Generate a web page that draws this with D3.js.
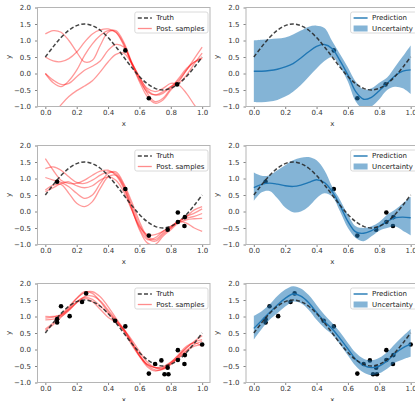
<!DOCTYPE html>
<html>
<head>
<meta charset="utf-8">
<script src="https://cdn.jsdelivr.net/npm/d3@7"></script>
<style>
body{margin:0;background:#fff}
text{font-family:"DejaVu Sans",sans-serif}
</style>
</head>
<body>
<svg id="fig" width="415" height="401"></svg>
<script>
// x grid shared by every curve
const xGrid = [0,0.05,0.1,0.15,0.2,0.25,0.3,0.35,0.4,0.45,0.5,0.55,0.6,0.65,0.7,0.75,0.8,0.85,0.9,0.95,1];
const truthY = [0.5,0.81,1.09,1.31,1.45,1.5,1.45,1.31,1.09,0.81,0.5,0.19,-0.09,-0.31,-0.45,-0.5,-0.45,-0.31,-0.09,0.19,0.5];

// observations per row
const obsX1 = [0.51,0.66,0.84];
const obsY1 = [0.70,-0.75,-0.33];
const obsX2 = [0.075,0.51,0.66,0.78,0.845,0.845,0.887,0.89];
const obsY2 = [0.90,0.68,-0.73,-0.55,-0.03,-0.32,-0.44,-0.17];
const obsX3 = [0.075,0.075,0.10,0.155,0.234,0.26,0.445,0.51,0.66,0.70,0.74,0.76,0.785,0.78,0.845,0.845,0.887,0.89,1.0];
const obsY3 = [0.92,0.82,1.31,1.01,1.44,1.70,0.87,0.70,-0.73,-0.44,-0.33,-0.75,-0.75,-0.55,-0.02,-0.32,-0.44,-0.17,0.15];

// posterior samples (5 per row)
const samples1 = [
  [1.20,1.30,1.25,1.00,0.65,0.35,0.40,0.85,1.25,1.30,0.95,0.35,-0.15,-0.60,-0.85,-0.75,-0.45,-0.15,0.15,0.35,0.45],
  [0.50,0.38,0.36,0.45,0.65,0.95,1.20,1.32,1.35,1.25,0.85,0.30,-0.20,-0.55,-0.65,-0.55,-0.40,-0.30,-0.05,0.30,0.62],
  [0.00,-0.28,-0.40,-0.22,0.10,0.55,0.90,1.15,1.30,1.25,0.90,0.30,-0.25,-0.70,-0.90,-0.80,-0.50,-0.25,0.10,0.45,0.80],
  [0.00,-0.20,-0.33,-0.30,-0.10,0.10,0.22,0.38,0.70,0.88,0.80,0.35,-0.10,-0.45,-0.55,-0.45,-0.30,-0.35,-0.60,-0.95,-1.25],
  [-1.60,-1.25,-0.95,-0.70,-0.52,-0.38,-0.22,0.05,0.35,0.58,0.62,0.30,-0.10,-0.50,-0.65,-0.60,-0.40,-0.20,0.10,0.35,0.48]
];
const samples2 = [
  [1.60,1.25,0.95,0.85,0.85,0.95,1.10,1.22,1.25,1.10,0.70,0.10,-0.50,-0.85,-0.80,-0.60,-0.45,-0.30,-0.15,0.05,0.15],
  [1.30,1.35,1.25,1.05,0.88,0.85,0.95,1.10,1.20,1.15,0.80,0.20,-0.40,-0.80,-0.90,-0.70,-0.50,-0.30,-0.15,-0.05,0.08],
  [1.03,0.95,0.88,0.75,0.55,0.40,0.50,0.85,1.15,1.20,0.85,0.30,-0.30,-0.75,-0.85,-0.65,-0.50,-0.30,-0.20,-0.15,-0.06],
  [0.65,0.80,0.82,0.55,0.25,0.15,0.30,0.70,1.05,1.10,0.75,0.10,-0.55,-0.95,-1.00,-0.75,-0.55,-0.35,-0.25,-0.22,-0.21],
  [0.60,0.72,0.85,0.90,0.78,0.72,0.78,0.95,1.05,0.95,0.60,0.05,-0.45,-0.70,-0.70,-0.60,-0.45,-0.30,-0.35,-0.50,-0.60]
];
const samples3 = [
  [1.00,1.00,1.05,1.25,1.55,1.75,1.70,1.45,1.15,0.88,0.62,0.25,-0.15,-0.45,-0.55,-0.55,-0.40,-0.25,-0.05,0.10,0.15],
  [0.95,0.98,1.05,1.22,1.45,1.58,1.52,1.32,1.10,0.85,0.55,0.15,-0.20,-0.45,-0.55,-0.52,-0.38,-0.18,0.05,0.22,0.30],
  [0.90,0.92,1.00,1.18,1.42,1.55,1.45,1.22,0.98,0.82,0.60,0.22,-0.18,-0.48,-0.62,-0.60,-0.45,-0.25,-0.02,0.15,0.25],
  [0.62,0.80,1.05,1.30,1.55,1.72,1.75,1.60,1.30,0.95,0.62,0.30,-0.05,-0.38,-0.55,-0.58,-0.45,-0.20,0.05,0.25,0.42],
  [0.58,0.75,0.98,1.20,1.42,1.60,1.62,1.48,1.20,0.90,0.58,0.20,-0.20,-0.52,-0.65,-0.58,-0.40,-0.15,0.10,0.20,0.10]
];

// predictive mean and uncertainty band per row
const mean1  = [0.07,0.07,0.09,0.13,0.20,0.30,0.47,0.66,0.82,0.88,0.75,0.38,-0.05,-0.55,-0.78,-0.72,-0.52,-0.30,-0.07,0.07,0.11];
const upper1 = [1.00,1.02,1.04,1.06,1.09,1.18,1.30,1.42,1.45,1.38,0.98,0.58,0.18,-0.25,-0.48,-0.45,-0.28,-0.12,0.20,0.52,0.85];
const lower1 = [-0.86,-0.87,-0.85,-0.80,-0.70,-0.55,-0.35,-0.10,0.15,0.38,0.50,0.20,-0.25,-0.85,-1.08,-1.00,-0.78,-0.50,-0.40,-0.45,-0.62];
const mean2  = [0.72,0.82,0.86,0.83,0.78,0.76,0.80,0.88,0.96,0.88,0.60,0.18,-0.30,-0.62,-0.66,-0.58,-0.45,-0.30,-0.19,-0.17,-0.19];
const upper2 = [1.18,1.08,1.10,1.25,1.40,1.55,1.63,1.65,1.55,1.25,0.75,0.35,-0.10,-0.45,-0.50,-0.45,-0.32,-0.10,0.05,0.25,0.45];
const lower2 = [0.32,0.58,0.62,0.40,0.12,-0.02,0.00,0.15,0.40,0.55,0.45,0.00,-0.50,-0.80,-0.90,-0.75,-0.58,-0.50,-0.45,-0.58,-0.72];
const mean3  = [0.64,0.88,1.12,1.35,1.55,1.68,1.62,1.42,1.12,0.85,0.62,0.33,0.02,-0.30,-0.48,-0.55,-0.50,-0.35,-0.12,0.05,0.16];
const upper3 = [1.02,1.16,1.36,1.62,1.82,1.92,1.85,1.65,1.35,1.05,0.80,0.52,0.20,-0.10,-0.28,-0.33,-0.25,-0.08,0.17,0.40,0.62];
const lower3 = [0.30,0.62,0.90,1.10,1.30,1.45,1.40,1.20,0.90,0.65,0.45,0.15,-0.18,-0.50,-0.70,-0.78,-0.72,-0.58,-0.40,-0.30,-0.22];

const xTicks = [0,0.2,0.4,0.6,0.8,1.0];
const yTicks = [-1,-0.5,0,0.5,1,1.5,2];

const rows = [
  {obsX: obsX1, obsY: obsY1, samples: samples1, mean: mean1, upper: upper1, lower: lower1},
  {obsX: obsX2, obsY: obsY2, samples: samples2, mean: mean2, upper: upper2, lower: lower2},
  {obsX: obsX3, obsY: obsY3, samples: samples3, mean: mean3, upper: upper3, lower: lower3}
];

// layout
const colLeft = [37.5, 246];
const rowTop = [7.5, 145.5, 283.5];
const pw = 172.5, ph = 99;
const blue = "#1f77b4";

const svg = d3.select("#fig");
const fmt = d3.format(".1f");

function makeAxes(g, id){
  const x = d3.scaleLinear().domain([-0.05, 1.05]).range([0, pw]);
  const y = d3.scaleLinear().domain([-1, 2]).range([ph, 0]);

  g.append("clipPath").attr("id", id)
    .append("rect").attr("width", pw).attr("height", ph);

  const ax = g.append("g").attr("transform", `translate(0,${ph})`)
    .call(d3.axisBottom(x).tickValues(xTicks).tickFormat(fmt).tickSize(2.5).tickPadding(1.5).tickSizeOuter(0));
  const ay = g.append("g")
    .call(d3.axisLeft(y).tickValues(yTicks).tickFormat(fmt).tickSize(2.5).tickPadding(4).tickSizeOuter(0));
  [ax, ay].forEach(a => {
    a.select(".domain").remove();
    a.selectAll("line").attr("stroke", "#666").attr("stroke-width", 0.8);
    a.selectAll("text").attr("fill", "#333").style("font-size", "7px");
  });

  g.append("text").attr("x", pw / 2).attr("y", ph + 19.5)
    .attr("text-anchor", "middle").attr("fill", "#333").style("font-size", "7px").text("x");
  g.append("text").attr("transform", `translate(-27,${ph / 2}) rotate(-90)`)
    .attr("text-anchor", "middle").attr("fill", "#333").style("font-size", "7px").text("y");

  const plot = g.append("g").attr("clip-path", `url(#${id})`);
  return {x, y, plot};
}

function spines(g){
  g.append("rect").attr("width", pw).attr("height", ph)
    .attr("fill", "none").attr("stroke", "#b5b5b5").attr("stroke-width", 1);
}

function legend(g, items){
  const lg = g.append("g");
  const box = lg.append("rect").attr("y", 4.5).attr("height", 21)
    .attr("rx", 2).attr("fill", "white").attr("fill-opacity", 0.85)
    .attr("stroke", "#d0d0d0").attr("stroke-width", 0.8);
  let maxW = 0;
  items.forEach((it, i) => {
    const cy = 4.5 + 6 + i * 10.5;
    const e = lg.append("g");
    if (it.kind === "patch") {
      e.append("rect").attr("x", 3).attr("y", cy - 3).attr("width", 14).attr("height", 6)
        .attr("fill", blue).attr("fill-opacity", 0.55);
    } else {
      e.append("line").attr("x1", 3).attr("x2", 17).attr("y1", cy).attr("y2", cy)
        .attr("stroke", it.color).attr("stroke-width", it.width)
        .attr("stroke-opacity", it.opacity || 1)
        .attr("stroke-dasharray", it.dash || null);
    }
    const t = e.append("text").attr("x", 21.5).attr("y", cy).attr("dy", "0.35em")
      .attr("fill", "#222").style("font-size", "7px").text(it.label);
    maxW = Math.max(maxW, t.node().getComputedTextLength());
  });
  const w = 21.5 + maxW + 3.5;
  box.attr("width", w);
  lg.attr("transform", `translate(${pw - 2 - w},0)`);
}

rows.forEach((r, ri) => {
  const ptsT = xGrid.map((xv, i) => [xv, truthY[i]]);

  // left: posterior samples
  const gl = svg.append("g").attr("transform", `translate(${colLeft[0]},${rowTop[ri]})`);
  const A = makeAxes(gl, "clipL" + ri);
  const line = d3.line().x(d => A.x(d[0])).y(d => A.y(d[1])).curve(d3.curveCatmullRom.alpha(0.5));
  A.plot.selectAll("path.sample").data(r.samples).enter().append("path")
    .attr("class", "sample")
    .attr("d", s => line(xGrid.map((xv, i) => [xv, s[i]])))
    .attr("fill", "none").attr("stroke", "red").attr("stroke-opacity", 0.4).attr("stroke-width", 1.3);
  A.plot.append("path").attr("d", line(ptsT))
    .attr("fill", "none").attr("stroke", "#222").attr("stroke-opacity", 0.85)
    .attr("stroke-width", 1.5).attr("stroke-dasharray", "4,2.2");
  A.plot.selectAll("circle").data(r.obsX).enter().append("circle")
    .attr("cx", d => A.x(d)).attr("cy", (d, i) => A.y(r.obsY[i])).attr("r", 2.3).attr("fill", "black");
  spines(gl);
  legend(gl, [
    {label: "Truth", color: "#222", width: 1.5, dash: "4,2.2", opacity: 0.85},
    {label: "Post. samples", color: "red", width: 1.3, opacity: 0.45}
  ]);

  // right: prediction with uncertainty
  const gr = svg.append("g").attr("transform", `translate(${colLeft[1]},${rowTop[ri]})`);
  const B = makeAxes(gr, "clipR" + ri);
  const lineB = d3.line().x(d => B.x(d[0])).y(d => B.y(d[1])).curve(d3.curveCatmullRom.alpha(0.5));
  const area = d3.area().x((d, i) => B.x(xGrid[i]))
    .y0((d, i) => B.y(r.lower[i])).y1((d, i) => B.y(r.upper[i]))
    .curve(d3.curveCatmullRom.alpha(0.5));
  B.plot.selectAll("circle").data(r.obsX).enter().append("circle")
    .attr("cx", d => B.x(d)).attr("cy", (d, i) => B.y(r.obsY[i])).attr("r", 2.3).attr("fill", "black");
  B.plot.append("path").attr("d", lineB(xGrid.map((xv, i) => [xv, r.mean[i]])))
    .attr("fill", "none").attr("stroke", blue).attr("stroke-width", 1.4);
  B.plot.append("path").attr("d", area(xGrid))
    .attr("fill", blue).attr("fill-opacity", 0.55);
  B.plot.append("path").attr("d", lineB(ptsT))
    .attr("fill", "none").attr("stroke", "#222").attr("stroke-opacity", 0.85)
    .attr("stroke-width", 1.5).attr("stroke-dasharray", "4,2.2");
  spines(gr);
  legend(gr, [
    {label: "Prediction", color: blue, width: 1.4},
    {label: "Uncertainty", kind: "patch"}
  ]);
});
</script>
</body>
</html>
